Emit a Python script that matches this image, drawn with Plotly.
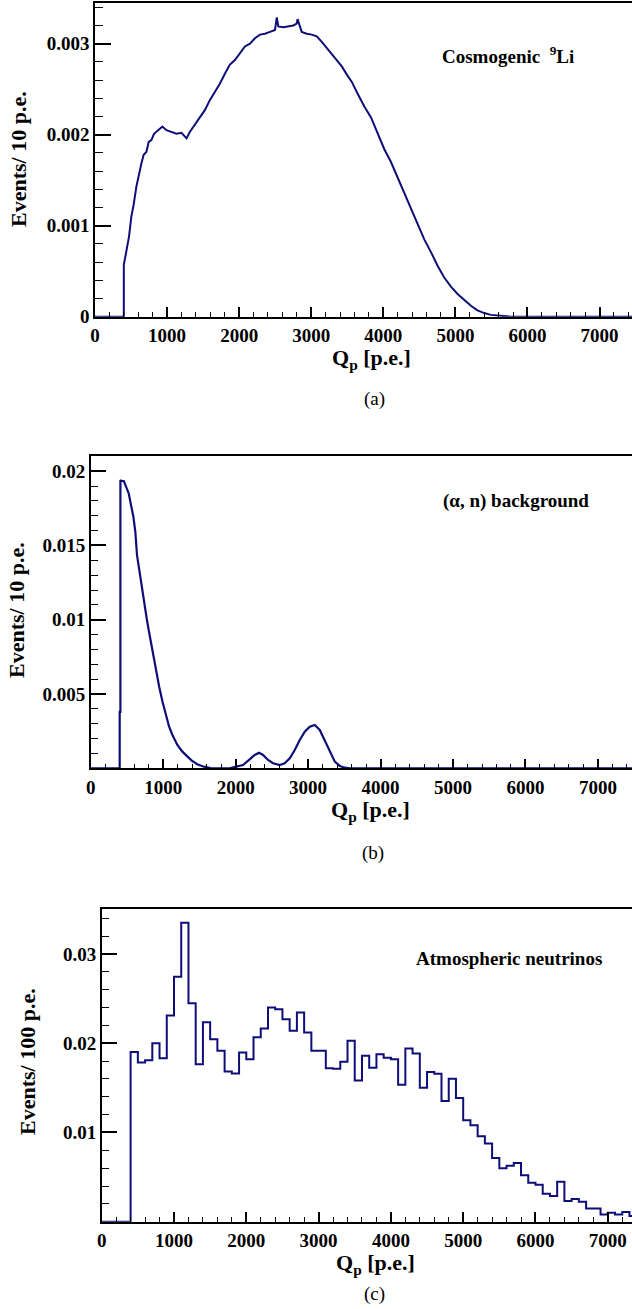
import plotly.graph_objects as go

W, H = 632, 1309

# ---------------- data ----------------
# (a) Cosmogenic 9Li, Events / 10 p.e.
li9_q = [0, 400, 400, 434, 472, 504, 536, 574, 610, 643, 675, 713, 745, 782, 819, 875,
         935, 991, 1060, 1130, 1200, 1270, 1315, 1385, 1454, 1524, 1593, 1663, 1732, 1802,
         1872, 1941, 2011, 2080, 2150, 2219, 2289, 2358, 2428, 2497, 2522, 2543, 2613, 2682,
         2752, 2798, 2810, 2868, 2937, 3007, 3076, 3146, 3215, 3285, 3354, 3424, 3494, 3563,
         3644, 3737, 3829, 3921, 4014, 4106, 4199, 4291, 4383, 4476, 4568, 4661, 4753, 4845,
         4938, 5030, 5122, 5215, 5307, 5400, 5492, 5631, 5769, 8000]
li9_ev = [0, 0, 0.00057, 0.0007, 0.00088, 0.0011, 0.00123, 0.00143, 0.00158, 0.00168, 0.00178,
          0.00181, 0.00192, 0.00194, 0.00201, 0.00205, 0.00209, 0.00205, 0.00203, 0.00201,
          0.00202, 0.00196, 0.00203, 0.00211, 0.00218, 0.00227, 0.00238, 0.00247, 0.00256,
          0.00267, 0.00277, 0.00282, 0.00289, 0.00297, 0.003, 0.00306, 0.0031, 0.00311,
          0.00313, 0.00315, 0.00329, 0.00319, 0.00318, 0.00319, 0.0032, 0.00322, 0.00327,
          0.00313, 0.00311, 0.0031, 0.00308, 0.00302, 0.00295, 0.00289, 0.00282, 0.00275,
          0.00266, 0.00258, 0.00245, 0.00231, 0.00219, 0.00201, 0.00184, 0.0017, 0.00153,
          0.00137, 0.0012, 0.00102, 0.00085, 0.00071, 0.00056, 0.00043, 0.00033, 0.00025,
          0.00018, 0.00012, 0.00007, 0.00004, 0.00002, 0.000007, 0, 0]

# (b) (alpha, n) background, Events / 10 p.e.
an_q = [0, 400, 400, 410, 410, 420, 457, 475, 502, 525, 557, 589, 616, 639, 671, 703, 740,
        776, 813, 854, 900, 945, 991, 1037, 1082, 1128, 1196, 1265, 1333, 1402, 1470, 1562,
        1653, 1744, 1836, 1927, 2018, 2101, 2194, 2263, 2323, 2378, 2447, 2516, 2608, 2677,
        2747, 2816, 2885, 2954, 3023, 3092, 3161, 3230, 3300, 3369, 3438, 3507, 3576, 8000]
an_ev = [0, 0, 0.0038, 0.0038, 0.0194, 0.01935, 0.01933, 0.0191, 0.01879, 0.0185, 0.01771,
         0.01693, 0.01592, 0.01435, 0.01334, 0.01222, 0.0111, 0.00998, 0.00897, 0.00785,
         0.00661, 0.00549, 0.00448, 0.00359, 0.0028, 0.00224, 0.00157, 0.00112, 0.00078,
         0.00049, 0.00027, 0.00011, 0.00002, 0, 0, 0.00002, 0.00011, 0.00022, 0.0006, 0.0009,
         0.00105, 0.0009, 0.00056, 0.00034, 0.00022, 0.00034, 0.00067, 0.00123, 0.00191,
         0.00247, 0.0028, 0.00291, 0.00258, 0.00191, 0.00112, 0.00045, 0.00016, 0.00004, 0, 0]

# (c) Atmospheric neutrinos, Events / 100 p.e. (bins of 100 p.e. starting at 0)
atm_bin_width = 100
atm_ev = [0, 0, 0, 0,
          0.0190, 0.01784, 0.0181, 0.0200, 0.0183, 0.0231, 0.02745, 0.03348, 0.02447, 0.01765,
          0.02235, 0.02045, 0.01914, 0.01683, 0.0166, 0.01896, 0.01821, 0.02067, 0.02164, 0.02399,
          0.0238, 0.02268, 0.02138, 0.02343, 0.02119, 0.01914, 0.01914, 0.0172, 0.01713, 0.01791,
          0.02026, 0.01583, 0.01858, 0.01724, 0.01877, 0.01836, 0.01821, 0.01534, 0.0194, 0.01885,
          0.01501, 0.01676, 0.01657, 0.01352, 0.01601, 0.01385, 0.01136, 0.0108, 0.00957, 0.00875,
          0.00715, 0.006, 0.00626, 0.00659, 0.00521, 0.00436, 0.00413, 0.00313, 0.00287, 0.00447,
          0.00231, 0.00253, 0.00223, 0.00149, 0.00149, 0.00082, 0.001, 0.00082, 0.00108, 0.00063]

x_tickvals = [0, 1000, 2000, 3000, 4000, 5000, 6000, 7000]
x_ticktext = ["0", "1000", "2000", "3000", "4000", "5000", "6000", "7000"]
a_tickvals = [0, 0.001, 0.002, 0.003]
a_ticktext = ["0", "0.001", "0.002", "0.003"]
b_tickvals = [0.005, 0.01, 0.015, 0.02]
b_ticktext = ["0.005", "0.01", "0.015", "0.02"]
c_tickvals = [0.01, 0.02, 0.03]
c_ticktext = ["0.01", "0.02", "0.03"]

panel_labels = ["Cosmogenic  <sup>9</sup>Li", "(α, n) background", "Atmospheric neutrinos"]
y_titles = ["Events/ 10 p.e.", "Events/ 10 p.e.", "Events/ 100 p.e."]
x_title = "Q<sub>p</sub> [p.e.]"
sub_labels = ["(a)", "(b)", "(c)"]

# ---------------- figure ----------------
LINE = "#0e0e78"
SERIF = "Liberation Serif"
tickfont = dict(family=SERIF, size=19, color="black", weight="bold")

atm_edges = [i * atm_bin_width for i in range(len(atm_ev) + 1)]
atm_y = atm_ev + [atm_ev[-1]]

fig = go.Figure()
fig.add_trace(go.Scatter(x=li9_q, y=li9_ev, mode="lines", line=dict(color=LINE, width=2),
                         xaxis="x", yaxis="y", showlegend=False))
fig.add_trace(go.Scatter(x=an_q, y=an_ev, mode="lines", line=dict(color=LINE, width=2.2),
                         xaxis="x2", yaxis="y2", showlegend=False))
fig.add_trace(go.Scatter(x=atm_edges, y=atm_y, mode="lines", line=dict(color=LINE, width=2, shape="hv"),
                         xaxis="x3", yaxis="y3", showlegend=False))

def px2y(p):
    return 1 - p / H

# pixel boxes: (left, top, bottom)
boxes = [(95, 3.3, 316.7), (90.7, 455.7, 768.3), (101.7, 909.3, 1221.7)]
xranges = [[0, 7450], [0, 7470], [0, 7335]]
yranges = [[0, 0.003444], [0, 0.02104], [0, 0.035]]
ytv = [(a_tickvals, a_ticktext), (b_tickvals, b_ticktext), (c_tickvals, c_ticktext)]
yminor = [0.0002, 0.001, 0.002]

layout = dict(width=W, height=H, margin=dict(l=0, r=0, t=0, b=0, autoexpand=False),
              paper_bgcolor="white", plot_bgcolor="white", showlegend=False)
for i, ((left, top, bottom), xr, yr, (tv, tt), ym) in enumerate(zip(boxes, xranges, yranges, ytv, yminor)):
    sfx = "" if i == 0 else str(i + 1)
    layout["xaxis" + sfx] = dict(
        domain=[left / W, 1], range=xr, anchor="y" + sfx,
        tickmode="array", tickvals=x_tickvals, ticktext=x_ticktext,
        ticks="inside", ticklen=10, tickwidth=1.5, tickcolor="black",
        minor=dict(ticks="inside", ticklen=5, tickwidth=1, tickcolor="black", dtick=200, tick0=0),
        showline=True, linecolor="black", linewidth=1.5, mirror=True,
        showgrid=False, zeroline=False, tickfont=tickfont, ticklabelstandoff=1,
    )
    layout["yaxis" + sfx] = dict(
        domain=[px2y(bottom), px2y(top)], range=yr, anchor="x" + sfx,
        tickmode="array", tickvals=tv, ticktext=tt,
        ticks="inside", ticklen=16, tickwidth=1.5, tickcolor="black",
        minor=dict(ticks="inside", ticklen=8, tickwidth=1, tickcolor="black", dtick=ym, tick0=0),
        showline=True, linecolor="black", linewidth=1.5, mirror=False,
        showgrid=False, zeroline=False, tickfont=tickfont,
    )
fig.update_layout(**layout)

titlefont = dict(family=SERIF, size=22, color="black", weight="bold")
labfont = dict(family=SERIF, size=19, color="black", weight="bold")
subfont = dict(family=SERIF, size=19, color="black")

ytitle_pos = [(19, 159), (16, 610), (27, 1062)]
xtitle_pos = [(371, 359), (370, 811), (375, 1264)]
sub_pos = [(374, 399), (373, 853), (374, 1294)]
lab_pos = [(508, 55), (516, 501), (509, 958)]

ann = []
for i in range(3):
    ann.append(dict(text=y_titles[i], x=ytitle_pos[i][0] / W, y=px2y(ytitle_pos[i][1]),
                    xref="paper", yref="paper", showarrow=False, textangle=-90,
                    xanchor="center", yanchor="middle", font=titlefont))
    ann.append(dict(text=x_title, x=xtitle_pos[i][0] / W, y=px2y(xtitle_pos[i][1]),
                    xref="paper", yref="paper", showarrow=False,
                    xanchor="center", yanchor="middle", font=titlefont))
    ann.append(dict(text=sub_labels[i], x=sub_pos[i][0] / W, y=px2y(sub_pos[i][1]),
                    xref="paper", yref="paper", showarrow=False,
                    xanchor="center", yanchor="middle", font=subfont))
    ann.append(dict(text=panel_labels[i], x=lab_pos[i][0] / W, y=px2y(lab_pos[i][1]),
                    xref="paper", yref="paper", showarrow=False,
                    xanchor="center", yanchor="middle", font=labfont))
fig.update_layout(annotations=ann)

fig.write_html(
    "out.html",
    config={"displayModeBar": False},
    post_script="document.body.style.margin='0px';document.body.style.padding='0px';"
                "document.body.style.overflow='hidden';",
)
